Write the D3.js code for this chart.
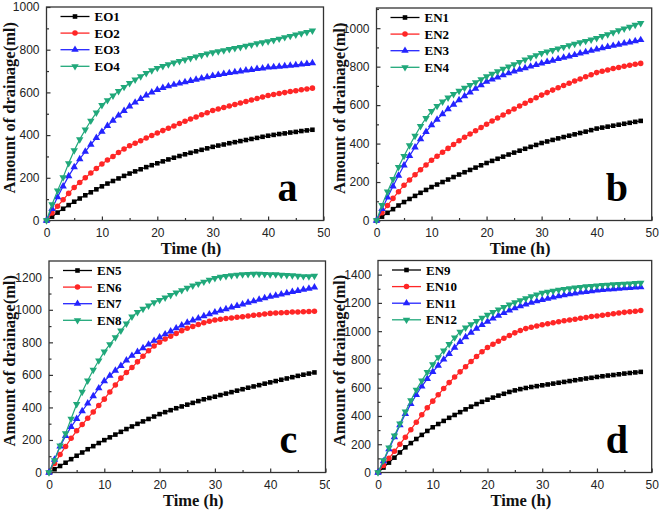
<!DOCTYPE html>
<html><head><meta charset="utf-8">
<script src="https://cdn.jsdelivr.net/npm/d3@7"></script>
<style>body{margin:0;background:#fff}svg{display:block}</style>
</head><body>
<svg id="chart" width="661" height="514"></svg>
<script>
// ---------- data ----------
const hours = [0,1,2,3,4,5,6,7,8,9,10,11,12,13,14,15,16,17,18,19,20,21,22,23,24,25,26,27,28,29,30,31,32,33,34,35,36,37,38,39,40,41,42,43,44,45,46,47,48];

const xTicks = [0,10,20,30,40,50];
const xMinorTicks = [5,15,25,35,45];

// panel a
const namesA = ["EO1","EO2","EO3","EO4"];
const EO1 = [0,18,37,55,72,88,103,118,132,146,160,173,185,197,209,220,230,240,250,259,268,277,286,294,302,310,317,324,331,338,345,351,356,362,367,372,377,382,387,392,397,401,405,408,412,415,419,422,425];
const EO2 = [0,35,67,97,127,155,178,200,222,244,265,283,300,318,335,350,362,374,386,398,410,421,432,443,454,465,475,485,495,505,515,522,529,536,543,550,557,564,571,578,585,590,595,599,604,608,612,616,620];
const EO3 = [0,55,110,160,208,250,288,323,356,387,416,443,468,492,514,535,553,570,586,600,612,621,629,636,642,648,654,660,666,672,678,682,687,691,695,699,703,706,710,713,717,719,721,723,726,728,731,734,737];
const EO4 = [0,75,140,202,268,328,380,425,467,505,540,563,585,606,625,643,660,675,690,703,714,723,731,739,746,753,760,767,774,781,787,792,797,802,807,812,818,823,829,834,839,845,851,858,864,870,876,882,889];
const yTicksA = [0,200,400,600,800,1000];

// panel b
const namesB = ["EN1","EN2","EN3","EN4"];
const EN1 = [0,20,40,59,78,96,112,128,144,159,174,187,200,213,226,239,251,263,275,287,299,310,321,332,343,353,363,373,383,393,403,411,419,427,434,441,448,455,462,470,478,483,488,493,498,503,508,513,518];
const EN2 = [0,40,78,115,150,183,211,238,264,289,313,334,355,375,395,415,433,450,467,484,501,517,533,549,565,580,595,610,624,638,652,665,678,690,702,714,725,736,747,758,769,776,783,790,796,802,807,812,817];
const EN3 = [0,60,120,178,234,287,336,381,423,461,496,525,553,579,603,626,647,667,686,704,722,734,745,756,766,776,785,793,801,809,817,825,832,840,847,854,861,869,876,883,890,897,903,909,915,921,927,933,939];
const EN4 = [0,80,150,215,278,335,390,440,490,532,568,595,618,639,657,674,689,704,718,734,749,762,775,788,800,812,824,836,848,859,870,878,886,894,902,910,918,926,933,940,948,958,968,978,988,997,1007,1017,1026];
const yTicksB = [0,200,400,600,800,1000];

// panel c
const namesC = ["EN5","EN6","EN7","EN8"];
const EN5 = [0,20,40,60,82,103,123,143,162,181,199,216,233,250,267,283,299,314,329,344,359,371,383,395,406,417,428,439,450,458,466,476,485,494,503,512,521,529,537,546,554,562,570,578,586,594,601,608,615];
const EN6 = [0,55,110,160,210,256,295,333,372,412,451,495,538,580,615,645,680,715,748,777,800,820,838,855,872,886,898,910,920,929,937,942,946,950,954,958,962,966,970,974,978,980,982,984,986,987,988,990,991];
const EN7 = [0,80,160,225,280,330,378,425,470,518,562,595,627,656,690,718,742,765,787,810,831,850,868,887,905,922,935,948,961,973,985,995,1005,1015,1025,1034,1044,1053,1063,1072,1081,1088,1095,1103,1110,1117,1124,1131,1138];
const EN8 = [0,75,165,240,330,420,495,565,630,688,743,788,830,872,915,958,985,1005,1025,1045,1060,1075,1090,1105,1120,1134,1148,1160,1172,1184,1195,1202,1207,1211,1214,1217,1219,1220,1220,1219,1218,1217,1215,1213,1211,1208,1206,1205,1208];
const yTicksC = [0,200,400,600,800,1000,1200];

// panel d
const namesD = ["EN9","EN10","EN11","EN12"];
const EN9 = [0,35,70,105,142,178,208,237,266,294,320,343,365,387,407,427,447,466,484,500,515,530,544,557,570,581,590,598,605,611,617,623,629,635,641,647,653,659,665,670,676,681,686,690,695,700,704,708,712];
const EN10 = [0,50,100,150,200,250,303,356,408,458,505,550,594,636,675,712,749,785,820,855,885,907,928,950,970,988,1005,1018,1028,1037,1045,1052,1059,1066,1073,1079,1085,1091,1097,1103,1108,1113,1118,1123,1128,1133,1137,1141,1146];
const EN11 = [0,80,165,250,335,415,485,550,610,663,712,757,800,840,884,925,958,990,1018,1044,1068,1090,1110,1129,1147,1163,1177,1190,1202,1212,1222,1231,1240,1248,1255,1262,1268,1274,1279,1284,1289,1292,1295,1298,1301,1304,1307,1310,1312];
const EN12 = [0,85,175,260,345,430,510,585,650,710,765,815,862,908,955,995,1025,1048,1070,1093,1115,1135,1153,1170,1187,1203,1218,1232,1246,1258,1270,1278,1285,1292,1298,1303,1308,1312,1316,1319,1322,1325,1328,1331,1333,1335,1337,1339,1341];
const yTicksD = [0,200,400,600,800,1000,1200,1400];

const panelLetters = ["a","b","c","d"];

// ---------- styles ----------
const colors = ["#000000","#ff2626","#2424ff","#20a87a"];
const symbols = [
  {type: d3.symbolSquare, size: 21, rot: 0},
  {type: d3.symbolCircle, size: 24, rot: 0},
  {type: d3.symbolTriangle, size: 24, rot: 0},
  {type: d3.symbolTriangle, size: 24, rot: 180}
];

const panels = [
  {names: namesA, data: [EO1,EO2,EO3,EO4], yMax: 1000, yTicks: yTicksA, letter: panelLetters[0],
   ox: 0, oy: 0, l: 46.5, r: 323.5, t: 7, b: 220.5, clipW: 330},
  {names: namesB, data: [EN1,EN2,EN3,EN4], yMax: 1105, yTicks: yTicksB, letter: panelLetters[1],
   ox: 330, oy: 0, l: 46.5, r: 321.7, t: 8, b: 220.5, clipW: 331},
  {names: namesC, data: [EN5,EN6,EN7,EN8], yMax: 1300, yTicks: yTicksC, letter: panelLetters[2],
   ox: 0, oy: 257, l: 49, r: 325.5, t: 4, b: 215.5, clipW: 330},
  {names: namesD, data: [EN9,EN10,EN11,EN12], yMax: 1500, yTicks: yTicksD, letter: panelLetters[3],
   ox: 330, oy: 257, l: 48, r: 321.7, t: 3.5, b: 215.5, clipW: 331}
];

const svg = d3.select("#chart");
const defs = svg.append("defs");

panels.forEach((p, pi) => {
  const clipId = "clip" + pi;
  defs.append("clipPath").attr("id", clipId)
    .append("rect").attr("x", 0).attr("y", 0).attr("width", p.clipW).attr("height", 257);

  const g = svg.append("g")
    .attr("transform", `translate(${p.ox},${p.oy})`)
    .append("g").attr("clip-path", `url(#${clipId})`);

  const x = d3.scaleLinear().domain([0, 50]).range([p.l, p.r]);
  const y = d3.scaleLinear().domain([0, p.yMax]).range([p.b, p.t]);

  // y minor ticks
  const yMinor = [];
  for (let i = 0; i < p.yTicks.length; i++) {
    const v = p.yTicks[i] + 100;
    if (v < p.yMax) yMinor.push(v);
  }

  // axes
  const xAxis = d3.axisBottom(x).tickValues(xTicks).tickSize(-4).tickPadding(8).tickFormat(d3.format("d"));
  const yAxis = d3.axisLeft(y).tickValues(p.yTicks).tickSize(-4).tickPadding(7).tickFormat(d3.format("d"));

  const gx = g.append("g").attr("transform", `translate(0,${p.b})`).call(xAxis);
  const gy = g.append("g").attr("transform", `translate(${p.l},0)`).call(yAxis);
  g.append("g").attr("transform", `translate(0,${p.b})`)
    .call(d3.axisBottom(x).tickValues(xMinorTicks).tickSize(-2.5).tickFormat(""));
  g.append("g").attr("transform", `translate(${p.l},0)`)
    .call(d3.axisLeft(y).tickValues(yMinor).tickSize(-2.5).tickFormat(""));

  g.selectAll(".domain").remove();
  g.selectAll(".tick line").attr("stroke", "#333").attr("stroke-width", 1.2);
  g.selectAll(".tick text").attr("font-family", "'Liberation Sans', Arial, sans-serif")
    .attr("font-size", 12).attr("fill", "#222");

  // frame
  g.append("rect").attr("x", p.l).attr("y", p.t).attr("width", p.r - p.l).attr("height", p.b - p.t)
    .attr("fill", "none").attr("stroke", "#333").attr("stroke-width", 1.3);

  // series
  const line = d3.line().x((d, i) => x(hours[i])).y(d => y(d));
  p.data.forEach((vals, si) => {
    g.append("path").datum(vals).attr("d", line)
      .attr("fill", "none").attr("stroke", colors[si]).attr("stroke-width", 1.2);
    const sym = d3.symbol().type(symbols[si].type).size(symbols[si].size);
    g.append("g").selectAll("path").data(vals).join("path")
      .attr("d", sym)
      .attr("transform", (d, i) => `translate(${x(hours[i])},${y(d)}) rotate(${symbols[si].rot})`)
      .attr("fill", colors[si]);
  });

  // legend
  const lg = g.append("g");
  p.names.forEach((n, si) => {
    const yy = p.t + 9.5 + si * 16.6;
    const x0 = p.l + 14, x1 = p.l + 43;
    lg.append("line").attr("x1", x0).attr("x2", x1).attr("y1", yy).attr("y2", yy)
      .attr("stroke", colors[si]).attr("stroke-width", 1.3);
    lg.append("path").attr("d", d3.symbol().type(symbols[si].type).size(symbols[si].size)())
      .attr("transform", `translate(${(x0 + x1) / 2},${yy}) rotate(${symbols[si].rot})`)
      .attr("fill", colors[si]);
    lg.append("text").attr("x", x1 + 5).attr("y", yy + 4.5)
      .attr("font-family", "'Liberation Serif', 'Times New Roman', serif")
      .attr("font-weight", "bold").attr("font-size", 13).attr("fill", "#000").text(n);
  });

  // panel letter
  g.append("text").attr("x", p.r - 46).attr("y", p.b - 20)
    .attr("font-family", "'Liberation Serif', 'Times New Roman', serif")
    .attr("font-weight", "bold").attr("font-size", 40).attr("fill", "#000").text(p.letter);

  // axis titles
  g.append("text").attr("x", (p.l + p.r) / 2 + 6).attr("y", p.b + 33)
    .attr("text-anchor", "middle")
    .attr("font-family", "'Liberation Serif', 'Times New Roman', serif")
    .attr("font-weight", "bold").attr("font-size", 16.5).attr("fill", "#111").text("Time (h)");
  g.append("text")
    .attr("transform", `translate(15,${(p.t + p.b) / 2 - 6}) rotate(-90)`)
    .attr("text-anchor", "middle")
    .attr("font-family", "'Liberation Serif', 'Times New Roman', serif")
    .attr("font-weight", "bold").attr("font-size", 16.5).attr("fill", "#111").text("Amount of drainage(ml)");
});
</script>
</body></html>
